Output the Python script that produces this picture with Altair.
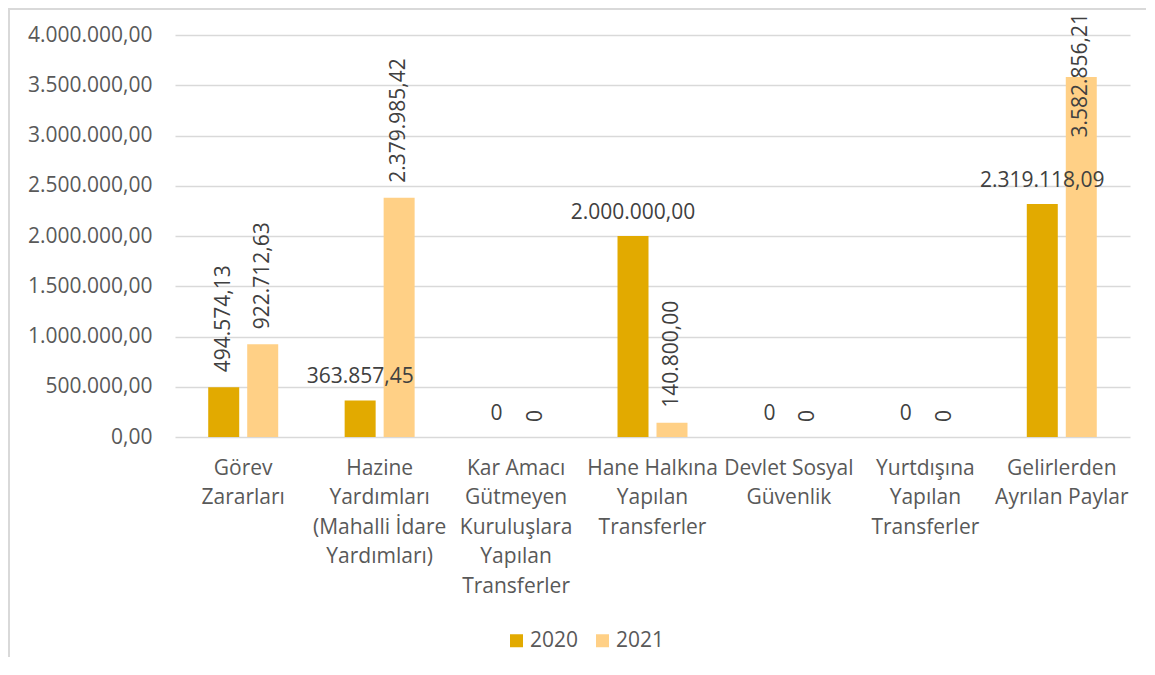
import altair as alt
import pandas as pd

categories = [
    "Görev\nZararları",
    "Hazine\nYardımları\n(Mahalli İdare\nYardımları)",
    "Kar Amacı\nGütmeyen\nKuruluşlara\nYapılan\nTransferler",
    "Hane Halkına\nYapılan\nTransferler",
    "Devlet Sosyal\nGüvenlik",
    "Yurtdışına\nYapılan\nTransferler",
    "Gelirlerden\nAyrılan Paylar",
]
years = ["2020", "2021"]
values_2020 = [494574.13, 363857.45, 0, 2000000.00, 0, 0, 2319118.09]
values_2021 = [922712.63, 2379985.42, 0, 140800.00, 0, 0, 3582856.21]
y_ticks = [0, 500000, 1000000, 1500000, 2000000, 2500000, 3000000, 3500000, 4000000]
colors = ["#E2AA00", "#FFD086"]
# categories whose 2020 label is drawn vertically (as in the original)
vertical_2020 = ["Görev\nZararları"]


def tr_format(v):
    if v == 0:
        return "0"
    s = f"{v:,.2f}"
    return s.replace(",", "_").replace(".", ",").replace("_", ".")


rows = []
for c, v20, v21 in zip(categories, values_2020, values_2021):
    rows.append({"category": c, "year": "2020", "value": v20,
                 "label": tr_format(v20), "vertical": c in vertical_2020})
    rows.append({"category": c, "year": "2021", "value": v21,
                 "label": tr_format(v21), "vertical": True})
df = pd.DataFrame(rows)

FONT = "Open Sans"
TICK_COLOR = "#595959"
LABEL_COLOR = "#404040"
FS = 21

x_enc = alt.X(
    "category:N",
    sort=categories,
    scale=alt.Scale(paddingInner=0.487, paddingOuter=0.2435),
    axis=alt.Axis(
        title=None, domain=False, ticks=False, labelAngle=0, labelPadding=20,
        labelExpr="split(datum.label, '\\n')", labelLineHeight=29.5,
        labelFontSize=FS, labelFont=FONT, labelColor=TICK_COLOR,
        labelOverlap=False, labelLimit=0, labelBaseline="top", grid=False,
    ),
)
xoff_enc = alt.XOffset("year:N", sort=years,
                       scale=alt.Scale(paddingInner=0.205, paddingOuter=0))

base = alt.Chart(df).encode(x=x_enc, xOffset=xoff_enc)

y_fmt = ("replace(replace(replace(format(datum.value, ',.2f'), regexp(',', 'g'), '_'), "
         "regexp('\\\\.', 'g'), ','), regexp('_', 'g'), '.')")

bars = base.mark_bar().encode(
    y=alt.Y(
        "value:Q",
        scale=alt.Scale(domain=[0, 4000000], nice=False),
        axis=alt.Axis(
            values=y_ticks, labelExpr=y_fmt, title=None, domain=False, ticks=False,
            labelPadding=23, gridColor="#D9D9D9", gridWidth=1.6,
            labelFontSize=FS, labelFont=FONT, labelColor=TICK_COLOR,
        ),
    ),
    color=alt.Color(
        "year:N",
        scale=alt.Scale(domain=years, range=colors),
        legend=alt.Legend(
            orient="none", legendX=331, legendY=595, direction="horizontal",
            title=None, symbolType="square", symbolSize=169, symbolStrokeWidth=0,
            labelFontSize=FS, labelFont=FONT, labelColor=TICK_COLOR,
            columnPadding=13, labelOffset=3, padding=0,
        ),
    ),
)

hlabels = base.transform_filter("!datum.vertical").mark_text(
    baseline="alphabetic", dy=-17, fontSize=FS, font=FONT, color=LABEL_COLOR
).encode(y="value:Q", text="label:N")

vlabels = base.transform_filter("datum.vertical && datum.value < 3000000").mark_text(
    angle=270, align="left", baseline="middle", dx=15,
    fontSize=FS, font=FONT, color=LABEL_COLOR,
).encode(y="value:Q", text="label:N")

toplabels = base.transform_filter("datum.vertical && datum.value >= 3000000").mark_text(
    angle=270, align="right", baseline="middle", dx=22,
    fontSize=FS, font=FONT, color=LABEL_COLOR,
).encode(y=alt.value(0), text="label:N")

frame_df = pd.DataFrame({"k": [0]})
left_border = alt.Chart(frame_df).mark_rule(color="#D9D9D9", strokeWidth=2).encode(
    x=alt.value(-166), y=alt.value(-27), y2=alt.value(640)
)
top_border = alt.Chart(frame_df).mark_rule(color="#D9D9D9", strokeWidth=2).encode(
    x=alt.value(-167), x2=alt.value(990), y=alt.value(-26)
)

chart = alt.layer(left_border, top_border, bars, hlabels, vlabels, toplabels).properties(
    width=955, height=402,
    autosize=alt.AutoSizeParams(type="none"),
    padding={"left": 167, "top": 27, "right": 16, "bottom": 220},
).configure(background="white").configure_view(stroke="transparent")

chart.save("out.html", embed_options={"renderer": "svg", "actions": False})
